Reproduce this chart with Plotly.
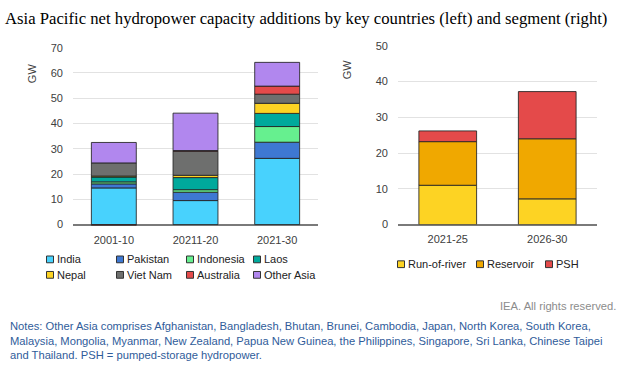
import plotly.graph_objects as go

W, H = 622, 365

# ---------------- data ----------------
left_categories = ["2001-10", "20211-20", "2021-30"]
india = [14.5, 9.5, 26.2]
pakistan = [1.6, 3.3, 6.4]
indonesia = [0.8, 1.0, 6.2]
laos = [1.9, 4.8, 5.2]
nepal = [0.4, 0.9, 4.0]
viet_nam = [5.2, 9.5, 3.6]
australia = [-0.3, 0.3, 3.2]
other_asia = [8.1, 14.8, 9.4]

right_categories = ["2021-25", "2026-30"]
run_of_river = [11.0, 7.2]
reservoir = [12.2, 16.8]
psh = [3.0, 13.2]

left_y_ticks = [0, 10, 20, 30, 40, 50, 60, 70]
right_y_ticks = [0, 10, 20, 30, 40, 50]

left_series = [
    ("India", india, "#48d2fd"),
    ("Pakistan", pakistan, "#3e78d2"),
    ("Indonesia", indonesia, "#66f08f"),
    ("Laos", laos, "#00a99c"),
    ("Nepal", nepal, "#fdd323"),
    ("Viet Nam", viet_nam, "#6e6f6e"),
    ("Australia", australia, "#e44a4a"),
    ("Other Asia", other_asia, "#b187ee"),
]
right_series = [
    ("Run-of-river", run_of_river, "#fdd323"),
    ("Reservoir", reservoir, "#f0a800"),
    ("PSH", psh, "#e44a4a"),
]

SANS = "Liberation Sans, Arial, sans-serif"
TXT = "#404040"
OUTLINE = "rgba(35,35,35,0.85)"

fig = go.Figure()
for name, vals, col in left_series:
    fig.add_trace(go.Bar(x=left_categories, y=vals, name=name, marker_color=col,
                         marker_line=dict(color=OUTLINE, width=1), width=0.55,
                         xaxis="x", yaxis="y", showlegend=False))
for name, vals, col in right_series:
    fig.add_trace(go.Bar(x=right_categories, y=vals, name=name, marker_color=col,
                         marker_line=dict(color=OUTLINE, width=1), width=0.58,
                         xaxis="x2", yaxis="y2", showlegend=False))

def px(x):
    return x / W

def py(y):
    return 1 - y / H

axis_common = dict(showline=False, ticks="", tickfont=dict(family=SANS, size=11, color=TXT))

fig.update_layout(
    width=W, height=H, margin=dict(l=0, r=0, t=0, b=0),
    paper_bgcolor="white", plot_bgcolor="white", barmode="relative",
    showlegend=False,
    xaxis=dict(domain=[px(73), px(318)], anchor="y", type="category",
               ticklabelstandoff=6, showgrid=False, **axis_common),
    yaxis=dict(domain=[py(227.3), py(43)], anchor="x", range=[-0.5, 70.05],
               tickvals=left_y_ticks, showgrid=True, gridcolor="#e2e2e2", gridwidth=1,
               zeroline=True, zerolinecolor="#7a7a7a", zerolinewidth=1.5,
               ticklabelstandoff=9, **axis_common),
    xaxis2=dict(domain=[px(398), px(597)], anchor="y2", type="category",
                ticklabelstandoff=6, showgrid=False, **axis_common),
    yaxis2=dict(domain=[py(226), py(41)], anchor="x2", range=[0, 50.05],
                tickvals=right_y_ticks, showgrid=True, gridcolor="#e2e2e2", gridwidth=1,
                zeroline=True, zerolinecolor="#7a7a7a", zerolinewidth=1.5,
                ticklabelstandoff=9, **axis_common),
)

annotations = []
shapes = []

# title
annotations.append(dict(text="Asia Pacific net hydropower capacity additions by key countries (left) and segment (right)",
                        x=px(3), y=py(13), xref="paper", yref="paper", xanchor="left", yanchor="middle",
                        showarrow=False, font=dict(family="Liberation Serif, Times New Roman, serif", size=16.7, color="black")))
# axis titles
annotations.append(dict(text="GW", x=px(24), y=py(57), xref="paper", yref="paper", textangle=-90,
                        showarrow=False, font=dict(family=SANS, size=11, color=TXT)))
annotations.append(dict(text="GW", x=px(347), y=py(53), xref="paper", yref="paper", textangle=-90,
                        showarrow=False, font=dict(family=SANS, size=11, color=TXT)))

# custom legends
def legend_entry(name, col, mx, my):
    s = 3.5
    shapes.append(dict(type="rect", xref="paper", yref="paper",
                       x0=px(mx - s), x1=px(mx + s), y0=py(my + s), y1=py(my - s),
                       fillcolor=col, line=dict(color="#333333", width=1)))
    annotations.append(dict(text=name, x=px(mx + 5), y=py(my), xref="paper", yref="paper",
                            xanchor="left", yanchor="middle", showarrow=False,
                            font=dict(family=SANS, size=11, color="#222222")))

left_cols = [50, 120, 190, 257]
left_rows = [262, 278]
for i, (name, _, col) in enumerate(left_series):
    legend_entry(name, col, left_cols[i % 4], left_rows[i // 4])

right_cols = [401, 480, 549]
for i, (name, _, col) in enumerate(right_series):
    legend_entry(name, col, right_cols[i], 267)

annotations.append(dict(text="IEA. All rights reserved.", x=px(618), y=py(310), xref="paper", yref="paper",
                        xanchor="right", yanchor="middle", showarrow=False,
                        font=dict(family=SANS, size=11.2, color="#8c8c8c")))

notes = ("Notes: Other Asia comprises Afghanistan, Bangladesh, Bhutan, Brunei, Cambodia, Japan, North Korea, South Korea,<br>"
         "Malaysia, Mongolia, Myanmar, New Zealand, Papua New Guinea, the Philippines, Singapore, Sri Lanka, Chinese Taipei<br>"
         "and Thailand. PSH = pumped-storage hydropower.")
annotations.append(dict(text=notes, x=px(8), y=py(345.5), xref="paper", yref="paper",
                        xanchor="left", yanchor="middle", align="left", showarrow=False,
                        font=dict(family=SANS, size=11.2, color="#2f5c9a")))

fig.update_layout(annotations=annotations, shapes=shapes)
fig.write_html("out.html", config={"displayModeBar": False},
               post_script="document.body.style.margin='0';")
